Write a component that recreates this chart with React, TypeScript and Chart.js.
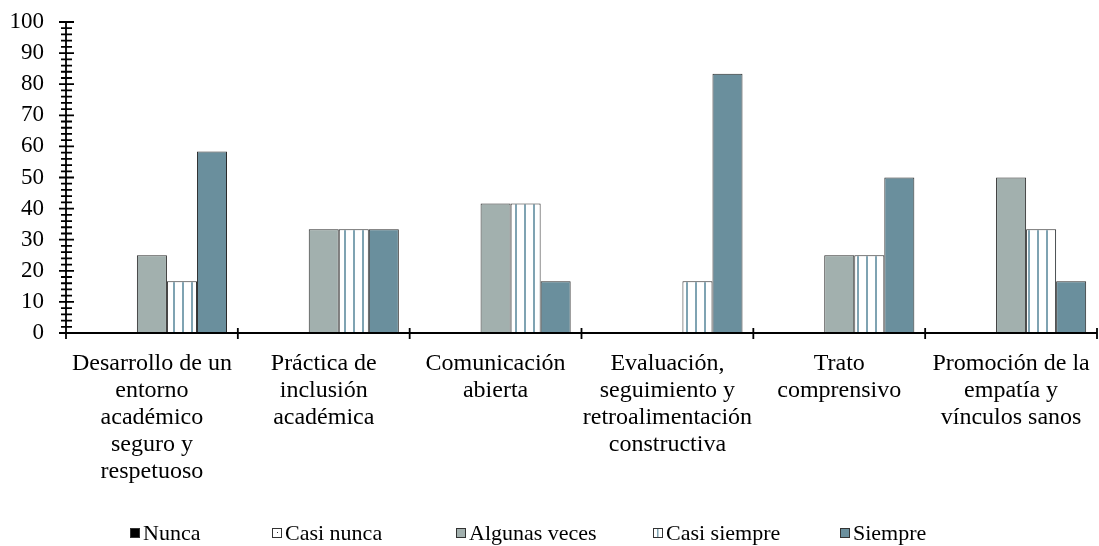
import React, { useEffect, useRef } from "react";
import { Chart, registerables } from "chart.js";

Chart.register(...registerables);

// ---------- data ----------
const categories: string[][] = [
  ["Desarrollo de un", "entorno", "académico", "seguro y", "respetuoso"],
  ["Práctica de", "inclusión", "académica"],
  ["Comunicación", "abierta"],
  ["Evaluación,", "seguimiento y", "retroalimentación", "constructiva"],
  ["Trato", "comprensivo"],
  ["Promoción de la", "empatía y", "vínculos sanos"],
];
const seriesNames = ["Nunca", "Casi nunca", "Algunas veces", "Casi siempre", "Siempre"];
const nunca = [0, 0, 0, 0, 0, 0];
const casiNunca = [0, 0, 0, 0, 0, 0];
const algunasVeces = [25, 33.33, 41.67, 0, 25, 50];
const casiSiempre = [16.67, 33.33, 41.67, 16.67, 25, 33.33];
const siempre = [58.33, 33.33, 16.67, 83.33, 50, 16.67];
const yMin = 0;
const yMax = 100;
const yMajorStep = 10;
const yMinorStep = 2;

// ---------- styles ----------
const FONT = "'Liberation Serif', 'Times New Roman', serif";
const GRAY = "#a2b0ae";
const BLUE = "#6a8f9d";
const STRIPE = "#7fa3b2";
const EDGE = "#2b2b2b";

function makeStripePattern(): CanvasPattern | string {
  const c = document.createElement("canvas");
  c.width = 9;
  c.height = 9;
  const g = c.getContext("2d");
  if (!g) return "#ffffff";
  g.fillStyle = "#ffffff";
  g.fillRect(0, 0, 9, 9);
  g.fillStyle = STRIPE;
  g.fillRect(2, 0, 2, 9);
  return g.createPattern(c, "repeat") || "#ffffff";
}

function makeDotPattern(): CanvasPattern | string {
  const c = document.createElement("canvas");
  c.width = 6;
  c.height = 6;
  const g = c.getContext("2d");
  if (!g) return "#ffffff";
  g.fillStyle = "#ffffff";
  g.fillRect(0, 0, 6, 6);
  g.fillStyle = "#333333";
  g.fillRect(3, 3, 1, 1);
  return g.createPattern(c, "repeat") || "#ffffff";
}

const axesPlugin = {
  id: "customAxes",
  afterDatasetsDraw(chart: any) {
    const { ctx, chartArea, scales } = chart;
    const { left, right, top, bottom } = chartArea;
    const y = scales.y;
    ctx.save();
    ctx.strokeStyle = "#000000";
    ctx.lineWidth = 1.8;
    ctx.beginPath();
    ctx.moveTo(left, top);
    ctx.lineTo(left, bottom);
    ctx.moveTo(left, bottom);
    ctx.lineTo(right, bottom);
    for (let v = yMin; v <= yMax + 1e-9; v += yMinorStep) {
      const py = y.getPixelForValue(v);
      const major = Math.abs(v % yMajorStep) < 1e-9;
      const l = major ? 7 : 5;
      const r = major ? 8 : 6;
      ctx.moveTo(left - l, py);
      ctx.lineTo(left + r, py);
    }
    const n = categories.length;
    for (let i = 0; i <= n; i++) {
      const px = left + ((right - left) * i) / n;
      ctx.moveTo(px, bottom - 5);
      ctx.lineTo(px, bottom + 6);
    }
    ctx.stroke();
    ctx.restore();
  },
};

const legendX = [130, 272, 456, 653, 840];

const legendPlugin = {
  id: "customLegend",
  afterDraw(chart: any) {
    const { ctx } = chart;
    ctx.save();
    ctx.font = `22px ${FONT}`;
    ctx.textBaseline = "alphabetic";
    ctx.textAlign = "left";
    const by = 528;
    const s = 10;
    chart.data.datasets.forEach((ds: any, i: number) => {
      const bx = legendX[i];
      ctx.fillStyle = "#ffffff";
      ctx.fillRect(bx, by, s, s);
      if (i === 0) {
        ctx.fillStyle = "#000000";
        ctx.fillRect(bx, by, s, s);
      } else if (i === 2) {
        ctx.fillStyle = GRAY;
        ctx.fillRect(bx, by, s, s);
      } else if (i === 4) {
        ctx.fillStyle = BLUE;
        ctx.fillRect(bx, by, s, s);
      } else if (i === 1) {
        ctx.fillStyle = "#333333";
        ctx.fillRect(bx + 5, by + 4, 1, 1);
      } else if (i === 3) {
        ctx.fillStyle = STRIPE;
        ctx.fillRect(bx + 4, by, 1.5, s);
      }
      ctx.strokeStyle = "#333333";
      ctx.lineWidth = 1;
      ctx.strokeRect(bx + 0.5, by + 0.5, s - 1, s - 1);
      ctx.fillStyle = "#000000";
      ctx.fillText(ds.label, bx + s + 3, 540);
    });
    ctx.restore();
  },
};

export default function App() {
  const ref = useRef<HTMLCanvasElement | null>(null);

  useEffect(() => {
    document.body.style.margin = "0";
    document.body.style.overflow = "hidden";
    const canvas = ref.current;
    if (!canvas) return;
    const stripe = makeStripePattern();
    const dots = makeDotPattern();
    const fills: any[] = ["#000000", dots, GRAY, stripe, BLUE];
    const values = [nunca, casiNunca, algunasVeces, casiSiempre, siempre];

    const chart = new Chart(canvas, {
      type: "bar",
      data: {
        labels: categories,
        datasets: seriesNames.map((name, i) => ({
          label: name,
          data: values[i],
          backgroundColor: fills[i],
          borderColor: EDGE,
          borderWidth: 1,
          categoryPercentage: 0.874,
          barPercentage: 1.0,
        })),
      },
      options: {
        animation: false,
        responsive: false,
        maintainAspectRatio: false,
        devicePixelRatio: 1,
        layout: { padding: { top: 22, right: 2, left: 0, bottom: 0 } },
        plugins: {
          legend: { display: false },
          tooltip: { enabled: false },
        },
        scales: {
          x: {
            grid: { display: false, drawTicks: false },
            border: { display: false },
            ticks: {
              color: "#000000",
              font: { family: FONT, size: 24, lineHeight: "27px" },
              padding: 17,
              maxRotation: 0,
              autoSkip: false,
            },
            afterFit(scale: any) {
              scale.height = 213;
              scale.paddingLeft = 0;
              scale.paddingRight = 0;
            },
          },
          y: {
            min: yMin,
            max: yMax,
            grid: { display: false, drawTicks: false },
            border: { display: false },
            ticks: {
              stepSize: yMajorStep,
              color: "#000000",
              font: { family: FONT, size: 23 },
              padding: 22,
            },
            afterFit(scale: any) {
              scale.width = 66;
              scale.paddingTop = 0;
              scale.paddingBottom = 0;
            },
          },
        },
      },
      plugins: [axesPlugin, legendPlugin],
    });

    return () => chart.destroy();
  }, []);

  return (
    <div style={{ width: 1099, height: 546, position: "relative" }}>
      <canvas ref={ref} width={1099} height={546} style={{ display: "block" }} />
    </div>
  );
}
